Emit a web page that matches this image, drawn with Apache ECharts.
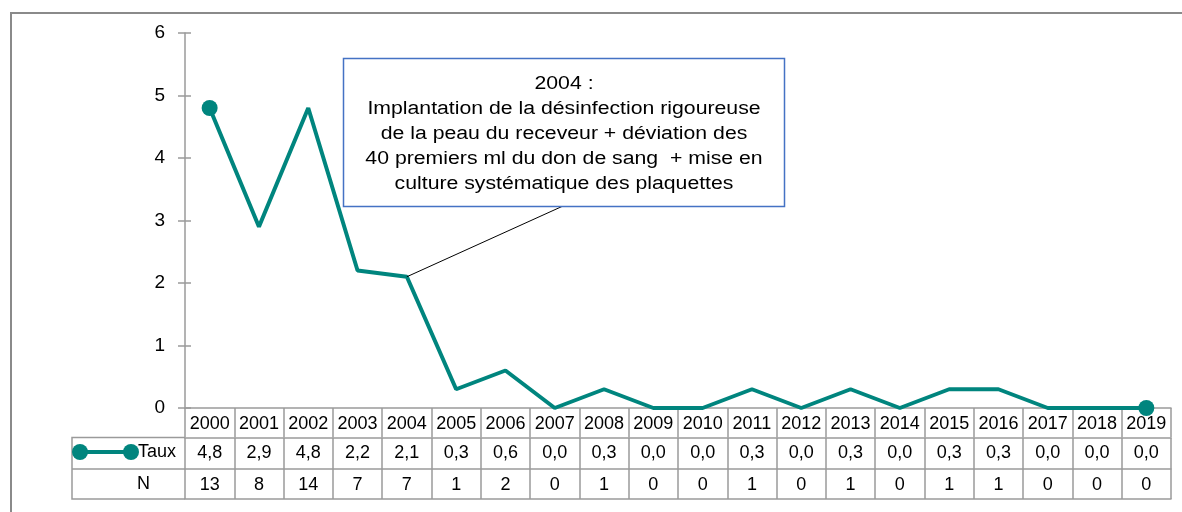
<!DOCTYPE html>
<html>
<head>
<meta charset="utf-8">
<script src="https://cdn.jsdelivr.net/npm/echarts@6/dist/echarts.min.js"></script>
<style>
  html, body { margin: 0; padding: 0; background: #fff; }
  #main { width: 1182px; height: 512px; }
</style>
</head>
<body>
<div id="main"></div>
<script>
// data
const years = ['2000', '2001', '2002', '2003', '2004', '2005', '2006', '2007', '2008', '2009',
               '2010', '2011', '2012', '2013', '2014', '2015', '2016', '2017', '2018', '2019'];
const taux = [4.8, 2.9, 4.8, 2.2, 2.1, 0.3, 0.6, 0.0, 0.3, 0.0,
              0.0, 0.3, 0.0, 0.3, 0.0, 0.3, 0.3, 0.0, 0.0, 0.0];
const counts = [13, 8, 14, 7, 7, 1, 2, 0, 1, 0, 0, 1, 0, 1, 0, 1, 1, 0, 0, 0];
const yTicks = [0, 1, 2, 3, 4, 5, 6];
const rowNames = ['Taux', 'N'];
const noteYear = '2004';
const noteLines = [
    '2004 :',
    'Implantation de la désinfection rigoureuse',
    'de la peau du receveur + déviation des',
    '40 premiers ml du don de sang  + mise en',
    'culture systématique des plaquettes'
];

const TEAL = '#00857E';
const GRID = '#9a9a9a';
const FONT = '"Liberation Sans", Arial, sans-serif';

const chart = echarts.init(document.getElementById('main'), null, { renderer: 'canvas' });

const fmt = v => v.toFixed(1).replace('.', ',');
const last = taux.length - 1;
const lineData = taux.map((v, i) =>
    (i === 0 || i === last) ? { value: v, symbol: 'circle', symbolSize: 16 } : v);

// one x axis per table row, ticks drawn full row height as cell borders
function tableAxis(offset, rowH, labelFn) {
    return {
        type: 'category',
        data: years,
        position: 'bottom',
        offset: offset,
        boundaryGap: true,
        axisLine: { show: true, onZero: false, lineStyle: { color: GRID, width: 1.5 } },
        axisTick: { show: labelFn !== null, interval: 0, length: rowH, lineStyle: { color: GRID, width: 1.5 } },
        axisLabel: {
            show: labelFn !== null,
            interval: 0,
            margin: 7,
            color: '#000',
            fontSize: 18,
            fontFamily: FONT,
            formatter: labelFn ? (val, idx) => labelFn(idx) : undefined
        },
        splitLine: { show: false }
    };
}

const option = {
    animation: false,
    backgroundColor: '#fff',
    grid: { left: 185, right: 11, top: 33, bottom: 104, containLabel: false },
    xAxis: [
        tableAxis(0, 29, i => years[i]),
        tableAxis(29.5, 31.5, i => fmt(taux[i])),
        tableAxis(61, 30, i => String(counts[i])),
        tableAxis(91, 0, null)
    ],
    yAxis: [
        {
            type: 'value',
            min: yTicks[0],
            max: yTicks[yTicks.length - 1],
            interval: 1,
            axisLine: { show: true, onZero: false, lineStyle: { color: GRID, width: 1.5 } },
            axisTick: { show: true, length: 7, lineStyle: { color: GRID, width: 1.5 } },
            axisLabel: { margin: 20, color: '#000', fontSize: 19, fontFamily: FONT },
            splitLine: { show: false }
        },
        {
            type: 'value',
            min: yTicks[0],
            max: yTicks[yTicks.length - 1],
            interval: 1,
            position: 'left',
            axisLine: { show: false, onZero: false },
            axisTick: { show: true, inside: true, length: 6, lineStyle: { color: GRID, width: 1.5 } },
            axisLabel: { show: false },
            splitLine: { show: false }
        }
    ],
    series: [{
        name: 'Taux',
        type: 'line',
        xAxisIndex: 0,
        yAxisIndex: 0,
        data: lineData,
        symbol: 'none',
        lineStyle: { color: TEAL, width: 4 },
        itemStyle: { color: TEAL },
        markLine: {
            silent: true,
            symbol: ['none', 'none'],
            label: { show: false },
            lineStyle: { color: '#000', width: 1, type: 'solid' },
            data: [[
                { coord: [noteYear, taux[years.indexOf(noteYear)]] },
                { x: 563, y: 206 }
            ]]
        }
    }],
    graphic: [
        // outer frame
        { type: 'rect', shape: { x: 11, y: 13, width: 1200, height: 600 },
          style: { fill: null, stroke: '#8a8a8a', lineWidth: 2 }, silent: true },
        // left label column of the table
        { type: 'polyline', shape: { points: [[185, 437.5], [72, 437.5], [72, 499], [185, 499]] },
          style: { fill: null, stroke: GRID, lineWidth: 1.5 }, silent: true },
        { type: 'line', shape: { x1: 72, y1: 469, x2: 185, y2: 469 },
          style: { stroke: GRID, lineWidth: 1.5 }, silent: true },
        // legend key inside the table
        { type: 'line', shape: { x1: 80, y1: 452, x2: 131, y2: 452 },
          style: { stroke: TEAL, lineWidth: 4 }, silent: true },
        { type: 'circle', shape: { cx: 80, cy: 452, r: 8 }, style: { fill: TEAL }, silent: true },
        { type: 'circle', shape: { cx: 131, cy: 452, r: 8 }, style: { fill: TEAL }, silent: true },
        { type: 'text', left: 138, top: 443, silent: true,
          style: { text: rowNames[0], fill: '#000', font: '18px ' + FONT } },
        { type: 'text', left: 137, top: 475, silent: true,
          style: { text: rowNames[1], fill: '#000', font: '18px ' + FONT } },
        // annotation box
        { type: 'rect', shape: { x: 343.5, y: 58.5, width: 441, height: 148 },
          style: { fill: '#fff', stroke: '#4472C4', lineWidth: 1.5 }, z: 100, silent: true },
        { type: 'text', x: 564, y: 72, scaleX: 1.18, z: 101, silent: true,
          style: { text: noteLines.join('\n'), fill: '#000', font: '18px ' + FONT,
                   align: 'center', verticalAlign: 'top', lineHeight: 25 } }
    ]
};

chart.setOption(option);
</script>
</body>
</html>
